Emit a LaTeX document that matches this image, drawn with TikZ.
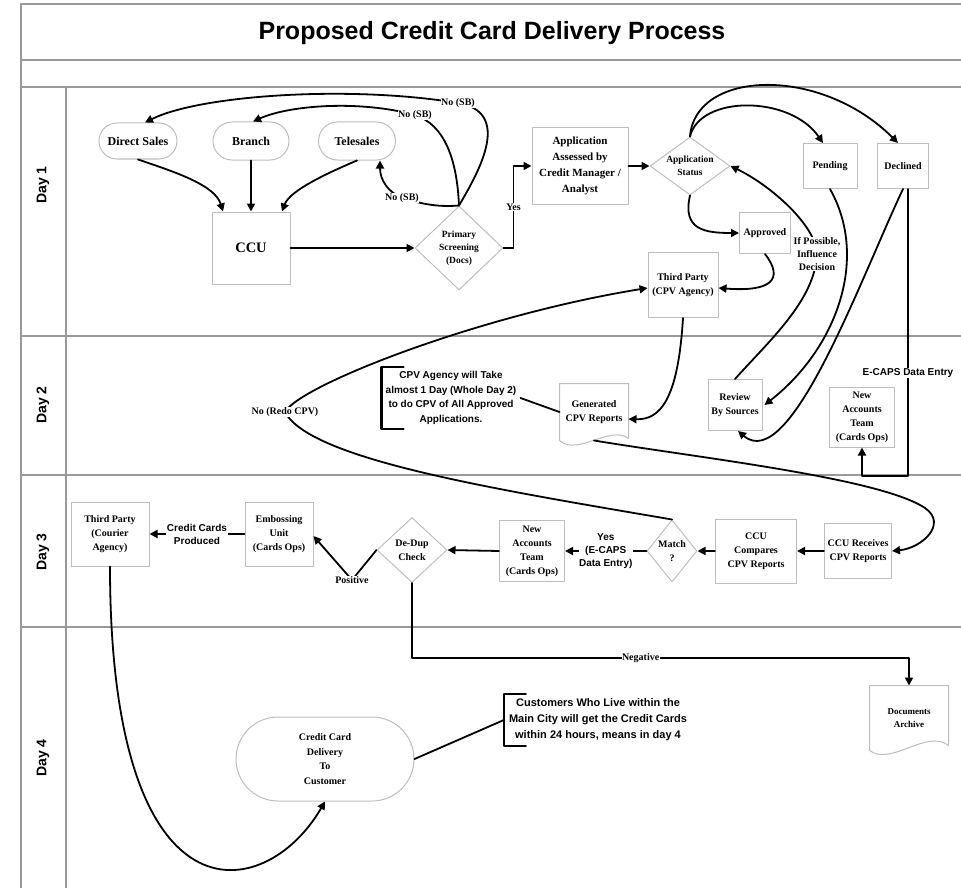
\documentclass[tikz,border=0pt]{standalone}
\usepackage{fontspec}
\setmainfont{Liberation Serif}
\newfontfamily\arialfont{Liberation Sans}
\usetikzlibrary{arrows.meta,shapes.geometric,shapes.misc,calc}
\definecolor{bcbcbc}{rgb}{0.74,0.74,0.74}
\definecolor{fgfgfg}{rgb}{0.6,0.6,0.6}

\begin{document}
\begin{tikzpicture}[x=1pt,y=-1pt,line cap=round,line join=round,
  box/.style={draw=bcbcbc,line width=1pt,align=center,inner sep=1pt,font=\bfseries\fontsize{10}{14}\selectfont},
  pill/.style={box,rounded rectangle,font=\bfseries\fontsize{12}{14}\selectfont},
  dia/.style={box,diamond,inner sep=0pt},
  doc/.style={box,draw=none},
  flow/.style={line width=1.8pt,-{Triangle[length=8pt,width=8pt]}},
  link/.style={line width=1.8pt},
  lab/.style={fill=white,inner sep=0.5pt,align=center,font=\bfseries\fontsize{10}{13}\selectfont},
  alab/.style={lab,font=\arialfont\bfseries\fontsize{10}{13}\selectfont},
  note/.style={align=center,inner sep=4pt,font=\arialfont\bfseries\fontsize{10}{14.5}\selectfont},
  lane/.style={draw=fgfgfg,line width=1.2pt},
  daylab/.style={rotate=90,font=\arialfont\bfseries\fontsize{14}{16}\selectfont}]
  \useasboundingbox (0,0) rectangle (961,888);
  \clip (0,0) rectangle (961,888);
  \draw[lane] (970,4) -- (21,4) -- (21,895);
  \draw[lane] (21,60) -- (970,60);
  \draw[lane] (21,87) -- (970,87);
  \draw[lane] (66,87) -- (66,895);
  \draw[lane] (21,336) -- (970,336);
  \draw[lane] (21,475) -- (970,475);
  \draw[lane] (21,627) -- (970,627);
  \node[font=\arialfont\bfseries\fontsize{25}{28}\selectfont] (title) at (492,33) {Proposed Credit Card Delivery Process};
  \node[daylab] (day1) at (43,185) {Day 1};
  \node[daylab] (day2) at (43,405) {Day 2};
  \node[daylab] (day3) at (43,552) {Day 3};
  \node[daylab] (day4) at (43,758) {Day 4};
  \node[pill,minimum width=80pt,minimum height=36pt] (ds) at (138,141) {Direct Sales};
  \node[pill,minimum width=78pt,minimum height=38pt] (br) at (251,141) {Branch};
  \node[pill,minimum width=79pt,minimum height=38pt] (ts) at (357,141) {Telesales};
  \node[box,minimum width=78pt,minimum height=72pt,font=\bfseries\fontsize{14.5}{16}\selectfont] (ccu) at (251,248) {CCU};
  \node[dia,minimum width=88pt,minimum height=84pt,font=\bfseries\fontsize{9.5}{13}\selectfont] (ps) at (459,248) {Primary\\Screening\\(Docs)};
  \node[box,minimum width=96pt,minimum height=76pt,font=\bfseries\fontsize{11}{16}\selectfont] (aa) at (580,166) {Application\\Assessed by\\Credit Manager /\\Analyst};
  \node[dia,aspect=1.4,minimum width=80pt,minimum height=58pt,font=\bfseries\fontsize{9.5}{13}\selectfont] (as) at (690,166) {Application\\Status};
  \node[box,minimum width=54pt,minimum height=45pt] (pe) at (830,166) {Pending};
  \node[box,minimum width=51pt,minimum height=45pt] (de) at (903,166) {Declined};
  \node[box,minimum width=51pt,minimum height=41pt] (ap) at (765,233) {Approved};
  \node[box,minimum width=70pt,minimum height=65pt] (tp) at (683,285) {Third Party\\(CPV Agency)};
  \node[doc,minimum width=68pt,minimum height=56pt] (gr) at (594,412) {Generated\\CPV Reports};
  \draw[draw=bcbcbc,line width=1pt] (gr.south west) -- (gr.north west) -- (gr.north east) -- ($(gr.south east)+(0,-2)$) .. controls ($(gr.south)+(17,-16)$) and ($(gr.south)+(-17,16)$) .. (gr.south west) -- cycle;
  \node[note] (cpvnote) at (451,398) {CPV Agency will Take\\almost 1 Day (Whole Day 2)\\to do CPV of All Approved\\Applications.};
  \draw[line width=2.2pt] ($(cpvnote.north west)+(22,0)$) -- (cpvnote.north west) -- (cpvnote.south west) -- ($(cpvnote.south west)+(22,0)$);
  \node[box,minimum width=54pt,minimum height=51pt] (rs) at (735,405) {Review\\By Sources};
  \node[box,minimum width=65pt,minimum height=60pt] (na1) at (862,417) {New\\Accounts\\Team\\(Cards Ops)};
  \node[box,minimum width=78pt,minimum height=64pt] (ca) at (110,534) {Third Party\\(Courier\\Agency)};
  \node[box,minimum width=68pt,minimum height=64pt] (eu) at (279,534) {Embossing\\Unit\\(Cards Ops)};
  \node[dia,minimum width=70pt,minimum height=65pt] (dd) at (412,550) {De-Dup\\Check};
  \node[box,minimum width=65pt,minimum height=61pt] (na2) at (532,551) {New\\Accounts\\Team\\(Cards Ops)};
  \node[dia,aspect=0.8,minimum width=50pt,minimum height=62pt] (mt) at (672,551) {Match\\?};
  \node[box,minimum width=81pt,minimum height=64pt] (cc) at (756,551) {CCU\\Compares\\CPV Reports};
  \node[box,minimum width=67pt,minimum height=55pt] (cr) at (858,551) {CCU Receives\\CPV Reports};
  \node[doc,minimum width=78pt,minimum height=64pt,font=\bfseries\fontsize{9}{13}\selectfont] (da) at (909,718) {Documents\\Archive};
  \draw[draw=bcbcbc,line width=1pt] (da.south west) -- (da.north west) -- (da.north east) -- ($(da.south east)+(0,-5)$) .. controls ($(da.south)+(18,-22)$) and ($(da.south)+(-18,16)$) .. (da.south west) -- cycle;
  \node[box,rounded rectangle,minimum width=180pt,minimum height=84pt,font=\bfseries\fontsize{10}{14.6}\selectfont] (cd) at (325,759) {Credit Card\\Delivery\\To\\Customer};
  \node[note,inner sep=5pt,font=\arialfont\bfseries\fontsize{11}{16}\selectfont] (citynote) at (598,720) {Customers Who Live within the\\Main City will get the Credit Cards\\within 24 hours, means in day 4};
  \draw[line width=2.2pt] ($(citynote.north west)+(22,0)$) -- (citynote.north west) -- (citynote.south west) -- ($(citynote.south west)+(22,0)$);
  \draw[flow] (ds.south) .. controls (175,172) and (215,185) .. ($(ccu.north)+(-28,0)$);
  \draw[flow] (br.south) -- (ccu.north);
  \draw[flow] (ts.south) .. controls (330,172) and (290,190) .. ($(ccu.north)+(31,0)$);
  \draw[flow] (ccu.east) -- (ps.west);
  \draw[flow] (ps.north) .. controls (440,207) and (425,205) .. (402,198) node[lab]{No (SB)} .. controls (388,192) and (380,180) .. ($(ts.south)+(23,0)$);
  \draw[flow] (ps.north) .. controls (457,160) and (445,125) .. (415,115) node[lab]{No (SB)} .. controls (360,100) and (290,105) .. ($(br.north)+(2,0)$);
  \draw[flow] (ps.north) .. controls (480,170) and (512,112) .. (458,103) node[lab]{No (SB)} .. controls (350,85) and (200,95) .. ($(ds.north)+(7,0)$);
  \draw[flow] (ps.east) -- ++(10,0) |- node[lab,pos=0.25]{Yes} (aa.west);
  \draw[flow] (aa.east) -- (as.west);
  \draw[flow] (as.north) .. controls (700,95) and (790,95) .. ($(pe.north)+(-7,0)$);
  \draw[flow] (as.north) .. controls (695,70) and (820,65) .. ($(de.north)+(-5,0)$);
  \draw[flow] (as.south) .. controls (682,230) and (705,233) .. (ap.west);
  \draw[flow] (ap.south) .. controls (785,280) and (770,292) .. ($(tp.east)+(0,3)$);
  \draw[flow] (rs.north) .. controls (770,340) and (815,300) .. (817,254) node[lab]{If Possible,\\Influence\\Decision} .. controls (816,225) and (770,185) .. (as.east);
  \draw[flow] (pe.south) .. controls (870,260) and (835,350) .. ($(rs.east)+(2,0)$);
  \draw[flow] (de.south) .. controls (860,280) and (790,475) .. ($(rs.south)+(3,0)$);
  \draw[flow] ($(de.south)+(5,0)$) -- node[alab,pos=0.64]{E-CAPS Data Entry} ++(0,287) -| (na1.south);
  \draw[flow] (tp.south) .. controls (678,400) and (660,420) .. ($(gr.east)+(0,7)$);
  \draw[link] (cpvnote.east) -- (gr.west);
  \draw[flow] (gr.south) .. controls (700,458) and (880,478) .. (925,508) .. controls (948,524) and (922,548) .. (cr.east);
  \draw[flow] (cr.west) -- (cc.east);
  \draw[flow] (cc.west) -- (mt.east);
  \draw[flow] (mt.west) -- node[alab]{Yes\\(E-CAPS\\Data Entry)} (na2.east);
  \draw[flow] (na2.west) -- (dd.east);
  \draw[flow] (mt.north) .. controls (500,490) and (310,460) .. (285,412) node[lab]{No (Redo CPV)} .. controls (300,385) and (480,315) .. ($(tp.west)+(0,3)$);
  \draw[flow] (dd.west) -- (352,580) node[lab]{Positive} -- ($(eu.east)+(0,2)$);
  \draw[flow] (eu.west) -- node[alab]{Credit Cards\\Produced} (ca.east);
  \draw[flow] (ca.south) .. controls (110,930) and (265,905) .. (cd.south);
  \draw[link] (cd.east) -- (citynote.west);
  \draw[flow] (dd.south) -- ++(0,75) -| node[lab,pos=0.23]{Negative} (da.north);
\end{tikzpicture}
\end{document}
